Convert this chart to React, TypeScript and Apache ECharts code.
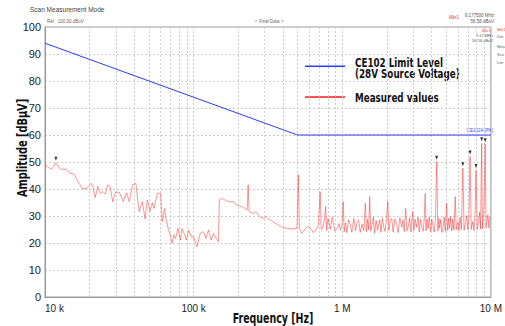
import React, { useEffect, useRef } from "react";
import * as echarts from "echarts";

// Measured trace: frequency (kHz) and level (dBµV)
const measFreqKHz = [
  10, 11.08, 11.84, 12.73, 13.95, 14.68, 15.68, 16.67, 17.84, 18.97, 20.48, 20.99, 21.78, 22.66, 23.62, 24.47,
  25.39, 26.42, 27.42, 28.53, 29.74, 31.62, 33.63, 35.38, 36.87, 38.79, 40.87, 42.99, 45.22, 47.13, 48.83, 50.9,
  52.72, 54.12, 56.93, 58.44, 59.98, 61.47, 63.78, 65.38, 67.43, 69.97, 71.7, 73.56, 75.51, 78.58, 81.53, 83.56,
  87.1, 89.4, 92.62, 96.54, 100, 105.2, 110.8, 116.6, 120.8, 125.9, 131.2, 135.9, 141.7, 146.8, 149.1, 156.1,
  162.7, 171.1, 184.8, 194.4, 209.9, 221.2, 229.1, 232.7, 236.3, 251.2, 264.2, 278.4, 292.9, 308.1, 316.2, 341.5,
  368.7, 398.1, 429.9, 464.2, 495.7, 506.5, 514.3, 535, 555.4, 585, 614.8, 640, 663.7, 690, 710.2, 722,
  735.6, 755, 773.8, 785, 802.8, 830, 857.7, 890, 926.5, 950, 974.3, 995,
  1015, 1030, 1052, 1075, 1100, 1136, 1160, 1197, 1230, 1260, 1292, 1320, 1359, 1395, 1430, 1455,
  1480, 1505, 1530, 1555, 1585, 1620, 1650, 1690, 1730, 1784, 1820, 1860, 1897, 1940, 1985, 2026,
  2060, 2100, 2154, 2200, 2260, 2326, 2380, 2440, 2512, 2560, 2610, 2672, 2720, 2784, 2840, 2900,
  2974, 3030, 3090, 3162, 3230, 3300, 3360, 3415, 3500, 3560, 3614, 3660, 3720, 3784, 3850, 3930,
  4000, 4086, 4160, 4240, 4318, 4400, 4460, 4522, 4600, 4680, 4764, 4850, 4940, 5035, 5120, 5200,
  5272, 5360, 5450, 5540, 5640, 5754, 5850, 5998, 6100, 6200, 6330, 6477, 6600, 6743, 6880, 7000,
  7120, 7244, 7380, 7551, 7700, 7820, 7943, 8100, 8279, 8400, 8520, 8670, 8780, 8886, 9000, 9150,
  9280, 9400, 9550, 9700, 9850, 10000,
];
const measLevel = [
  48.9, 47.3, 49.7, 47.3, 47.3, 45.8, 45.6, 42.7, 40.2, 40.2, 42.1, 40.9, 36.8, 40.9, 38.4, 39.0,
  38.1, 41.5, 40.9, 35.3, 38.8, 38.8, 35.3, 38.6, 35.3, 41.5, 42.1, 31.6, 35.3, 28.9, 35.9, 31.6,
  34.9, 32.8, 38.4, 38.4, 38.4, 27.9, 32.8, 28.5, 25.4, 22.3, 19.9, 23.0, 21.7, 25.4, 21.1, 25.4,
  23.0, 21.1, 24.8, 22.3, 22.3, 18.6, 23.6, 24.2, 21.7, 24.8, 21.1, 23.6, 21.7, 20.5, 35.9, 36.5,
  35.9, 35.3, 35.3, 34.0, 33.5, 32.8, 32.2, 41.5, 31.6, 31.0, 31.6, 29.7, 29.1, 29.7, 29.1, 27.9,
  26.7, 25.8, 25.4, 25.2, 25.4, 45.2, 25.4, 23.6, 24.8, 26.3, 25.4, 23.8, 24.8, 26.5, 39.0, 25.0,
  25.4, 27.8, 33.5, 24.6, 29.1, 25.2, 29.7, 24.4, 25.4, 27.2, 24.8, 26.5,
  35.3, 24.2, 27.4, 23.8, 28.6, 26.7, 24.0, 29.1, 24.6, 28.0, 28.5, 23.9, 27.0, 24.5, 34.7, 24.2,
  28.8, 25.0, 37.2, 24.4, 26.7, 29.6, 23.6, 28.4, 24.8, 28.5, 23.9, 29.2, 26.1, 24.3, 28.9, 35.3,
  24.6, 28.2, 29.1, 24.0, 28.9, 26.7, 23.8, 29.4, 25.8, 28.6, 24.2, 32.8, 24.5, 26.1, 29.2, 24.0,
  31.6, 24.6, 28.8, 25.8, 29.5, 24.1, 28.7, 26.1, 24.3, 29.0, 38.4, 24.5, 28.8, 25.4, 29.6, 24.2,
  28.9, 26.1, 24.0, 29.5, 50.1, 24.4, 29.1, 25.4, 28.7, 23.9, 25.4, 29.6, 24.3, 34.7, 24.6, 29.2,
  25.4, 29.8, 24.4, 28.9, 24.8, 37.2, 24.9, 27.9, 24.5, 29.6, 25.0, 47.7, 24.7, 27.0, 30.2, 24.9,
  29.4, 52.0, 25.1, 27.9, 24.6, 30.1, 47.0, 25.0, 28.5, 31.5, 25.2, 56.9, 25.3, 28.5, 34.7, 56.6,
  25.6, 27.9, 30.4, 25.5, 29.6, 29.1,
];

// CE102 limit (28 V source)
const limitFreqKHz = [10, 500, 10000];
const limitLevel = [94, 60, 60];

// Marked peaks (kHz)
const peakFreqKHz = [11.84, 4318, 6477, 7244, 7943, 8670, 9150];

// Axes
const xTickLabels: Record<number, string> = { 10000: "10 k", 100000: "100 k", 1000000: "1 M", 10000000: "10 M" };
const minorGridHz = [
  20000, 30000, 40000, 50000, 60000, 70000, 80000, 90000,
  200000, 300000, 400000, 500000, 600000, 700000, 800000, 900000,
  2000000, 3000000, 4000000, 5000000, 6000000, 7000000, 8000000, 9000000,
];

const legendNames = ["CE102 Limit Level\n(28V Source Voltage)", "Measured values"];
const legendColors = ["#2a3cff", "#ff1a1a"];

const NARROW = "'DejaVu Sans Condensed', 'Liberation Sans', sans-serif";
const SANS = "'Liberation Sans', Arial, sans-serif";

export default function App() {
  const ref = useRef<HTMLDivElement>(null);
  useEffect(() => {
    if (!ref.current) return;
    const chart = echarts.init(ref.current, undefined, { renderer: "svg" });
    const meas = measFreqKHz.map((f, i) => [f * 1000, measLevel[i]]);
    const lim = limitFreqKHz.map((f, i) => [f * 1000, limitLevel[i]]);
    const peaks = peakFreqKHz.map((f) => {
      const i = measFreqKHz.indexOf(f);
      return { coord: [f * 1000, measLevel[i]] };
    });
    const tiny = (x: number, y: number, text: string, fill = "#555", align = "left", size = 5) => ({
      type: "text",
      x,
      y,
      style: { text, fill, fontSize: size, fontFamily: SANS, align },
      silent: true,
    });
    const boldNarrow = (x: number, y: number, text: string, size: number, rotation = 0, align = "left") => ({
      type: "text",
      x,
      y,
      rotation,
      scaleX: 0.75,
      style: {
        text,
        fill: "#111",
        fontSize: size,
        fontWeight: "bold",
        fontFamily: NARROW,
        align,
        verticalAlign: "middle",
        lineHeight: 11,
      },
      silent: true,
    });
    chart.setOption({
      animation: false,
      backgroundColor: "#ffffff",
      grid: { left: 45, right: 10, top: 27, bottom: 29, show: true, borderColor: "#9a9a9a", borderWidth: 1 },
      xAxis: {
        type: "log",
        logBase: 10,
        min: 10000,
        max: 10000000,
        axisLine: { lineStyle: { color: "#9a9a9a" } },
        axisTick: { show: false },
        axisLabel: {
          fontSize: 10,
          fontFamily: SANS,
          color: "#222",
          margin: 6,
          alignMinLabel: "left",
          alignMaxLabel: "center",
          formatter: (v: number) => xTickLabels[Math.round(v)] ?? "",
        },
        splitLine: { show: true, lineStyle: { color: "#cfcfcf", type: [2, 2], width: 1 } },
      },
      yAxis: {
        type: "value",
        min: 0,
        max: 100,
        interval: 10,
        axisLine: { show: true, lineStyle: { color: "#9a9a9a" } },
        axisTick: { show: false },
        axisLabel: { fontSize: 11, fontFamily: SANS, color: "#222", margin: 4 },
        splitLine: { show: true, lineStyle: { color: "#cfcfcf", type: [2, 2], width: 1 } },
      },
      series: [
        {
          name: legendNames[0],
          type: "line",
          data: lim,
          showSymbol: false,
          symbol: "none",
          lineStyle: { color: legendColors[0], width: 1 },
          itemStyle: { color: legendColors[0] },
          z: 3,
          markLine: {
            silent: true,
            symbol: "none",
            label: { show: false },
            lineStyle: { color: "#cfcfcf", type: [2, 2], width: 1 },
            data: minorGridHz.map((x) => ({ xAxis: x })),
            z: 1,
          },
        },
        {
          name: legendNames[1],
          type: "line",
          data: meas,
          showSymbol: false,
          symbol: "none",
          lineStyle: { color: "#ff2020", width: 0.8, opacity: 0.6 },
          itemStyle: { color: legendColors[1] },
          z: 2,
          markPoint: {
            symbol: "triangle",
            symbolSize: [3, 4],
            symbolRotate: 180,
            symbolOffset: [0, -4],
            itemStyle: { color: "#333" },
            label: { show: false },
            data: peaks,
          },
        },
      ],
      graphic: [
        // legend
        { type: "rect", shape: { x: 305, y: 65.5, width: 40, height: 1.6 }, style: { fill: legendColors[0] }, silent: true },
        { type: "rect", shape: { x: 305, y: 96.2, width: 40, height: 1.6 }, style: { fill: legendColors[1] }, silent: true },
        boldNarrow(355, 68, legendNames[0], 13),
        boldNarrow(355, 97.5, legendNames[1], 13),
        // axis names
        boldNarrow(22, 148, "Amplitude [dBµV]", 14.5, Math.PI / 2, "center"),
        boldNarrow(273, 318, "Frequency [Hz]", 14, 0, "center"),
        // instrument annotations
        tiny(30, 6, "Scan Measurement Mode", "#444", "left", 6.5),
        tiny(47, 19, "Ref   100.00 dBuV", "#666", "left", 4.5),
        tiny(255, 19, "< Final Data >", "#666", "left", 4.5),
        tiny(449, 15, "Mkr1", "#ff3030", "left", 4.5),
        tiny(494, 13, "9.177500 MHz", "#555", "right", 4.5),
        tiny(494, 19, "56.56 dBuV", "#555", "right", 4.5),
        tiny(497, 27, "Mkr1", "#ff3030", "left", 4),
        tiny(482, 28, "Mkr1", "#ff3030", "left", 4),
        tiny(493, 33, "9.17 MHz", "#555", "right", 4),
        tiny(493, 38, "56.56 dBuV", "#555", "right", 4),
        tiny(497, 34, "Det", "#666", "left", 4),
        tiny(497, 44, "Mea", "#666", "left", 4),
        tiny(497, 52, "Sco", "#666", "left", 4),
        tiny(497, 60, "Lim", "#666", "left", 4),
        tiny(493, 128, "CE102A [PK]", "#3a4cff", "right", 4.5),
      ],
    });
    return () => chart.dispose();
  }, []);
  return <div ref={ref} style={{ position: "fixed", left: 0, top: 0, width: 505, height: 326 }} />;
}
